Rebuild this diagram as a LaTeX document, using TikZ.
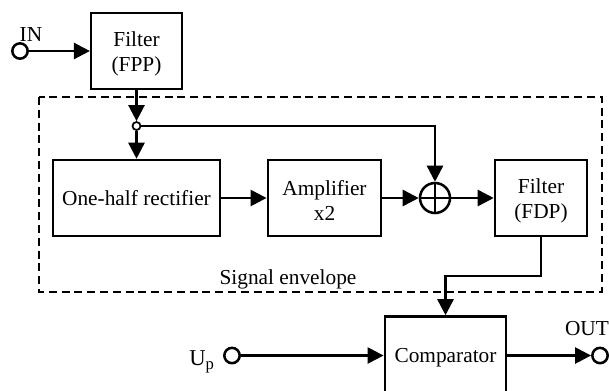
\documentclass[tikz,border=0pt]{standalone}
\usepackage{fontspec}
\setmainfont{Liberation Serif}
\usetikzlibrary{arrows.meta}
\newcommand{\toppad}{\rule{0pt}{15.5pt}}
\begin{document}
\begin{tikzpicture}[x=0.75pt,y=-0.75pt,line width=1.9pt,
  blockbox/.style={draw,rectangle,inner sep=0pt,align=center,font=\fontsize{16}{18.75}\selectfont},
  txt/.style={inner sep=0pt,font=\fontsize{16}{18}\selectfont},
  term/.style={draw,circle,fill=white,inner sep=0pt,minimum size=11.5pt},
  wire/.style={draw,-{Triangle[length=12pt,width=12pt]}}]
\useasboundingbox (0,0) rectangle (609,390);
\begin{scope}
\clip (0,0) rectangle (609,390);
\draw[line width=1.3pt,dash pattern=on 6pt off 3.6pt] (39,97) rectangle (602,292);
\node[blockbox,minimum width=68pt,minimum height=57pt] (fpp) at (136.5,51) {\toppad Filter\\(FPP)};
\node[blockbox,minimum width=125pt,minimum height=57pt] (rect) at (136.5,198) {One-half rectifier};
\node[blockbox,minimum width=85pt,minimum height=57pt] (amp) at (324.5,198) {\toppad Amplifier\\x2};
\node[blockbox,minimum width=69pt,minimum height=57pt] (fdp) at (541,198) {\toppad Filter\\(FDP)};
\node[blockbox,minimum width=91pt,minimum height=58.5pt] (comp) at (445.5,355.5) {\rule{0pt}{13.5pt}Comparator};
\node[term] (in) at (20,51) {};
\node[term] (up) at (232,355.5) {};
\node[term] (out) at (600,355.5) {};
\node[term,minimum size=6pt,line width=1.3pt] (j) at (136.5,126) {};
\node[draw,circle,inner sep=0pt,minimum size=22.5pt] (sum) at (435,198) {};
\draw[line width=1.3pt] (sum.north) -- (sum.south) (sum.west) -- (sum.east);
\coordinate (c1) at (435,126);
\coordinate (c2) at (541,276);
\coordinate (c3) at (445.5,276);
\path[wire] (in) -- (fpp.west |- in);
\path[wire] (fpp) -- (j);
\path[wire] (j) -- (rect);
\path[wire] (j) -- (c1) -- (sum);
\path[wire] (rect.east) -- (amp.west);
\path[wire] (amp.east) -- (sum);
\path[wire] (sum) -- (fdp.west);
\path[wire] (fdp.south) -- (c2) -- (c3) -- (comp.north);
\path[wire] (up) -- (comp.west |- up);
\path[wire] (comp.east) -- (out);
\node[txt] (inl) at (31,35) {IN};
\node[txt] (outl) at (587,329) {OUT};
\node[txt,anchor=base west] (upl) at (188,365) {\fontsize{17}{18}\selectfont U\raisebox{-0.2em}{\fontsize{12.5}{13}\selectfont p}};
\node[txt] (env) at (288,279) {Signal envelope};
\end{scope}
\end{tikzpicture}
\end{document}
